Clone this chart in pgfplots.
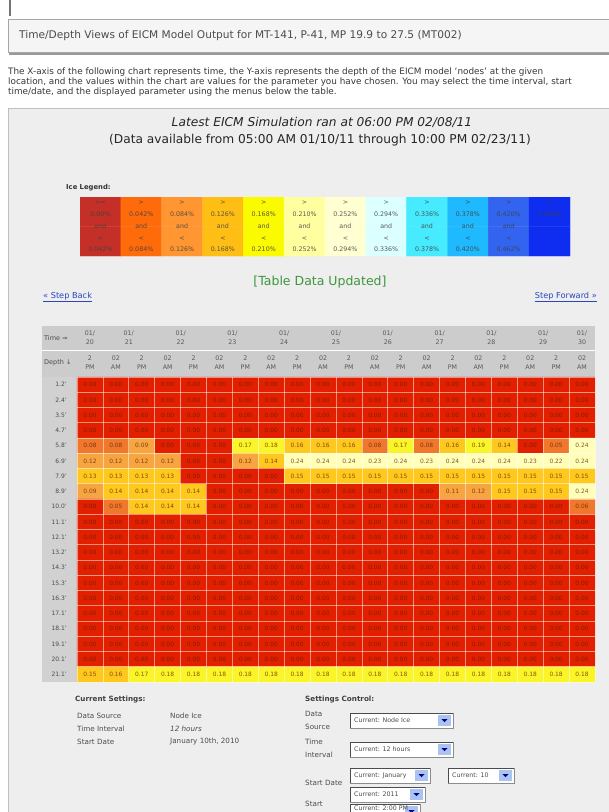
\documentclass[border=0pt]{standalone}
\usepackage{pgfplots}
\pgfplotsset{compat=1.18}
\usepackage{pgfplotstable}
\usepackage{fontspec}
\setmainfont{DejaVu Sans}
\definecolor{txt}{RGB}{55,55,55}
\definecolor{panel}{RGB}{238,238,238}
\definecolor{hdr}{RGB}{204,204,204}
\definecolor{link}{RGB}{40,70,190}
\definecolor{updgreen}{RGB}{60,150,60}
\definecolor{celltxt}{RGB}{95,30,0}
\definecolor{btn}{RGB}{170,195,240}
\newcommand{\fs}[1]{\fontsize{#1}{#1}\selectfont}
\pgfplotsset{
  colormap={tbl}{rgb255=(226,32,0) rgb255=(240,120,45) rgb255=(246,165,65) rgb255=(255,200,30) rgb255=(250,245,40) rgb255=(255,255,185)},
  colormap={leg}{rgb255=(196,48,40) rgb255=(255,106,10) rgb255=(255,150,50) rgb255=(255,190,20) rgb255=(250,250,0) rgb255=(255,255,160) rgb255=(255,255,210) rgb255=(220,255,255) rgb255=(70,235,255) rgb255=(30,185,255) rgb255=(50,100,240) rgb255=(15,45,240)}
}
\pgfplotstableread{
x y v
1 1 0.00
2 1 0.00
3 1 0.00
4 1 0.00
5 1 0.00
6 1 0.00
7 1 0.00
8 1 0.00
9 1 0.00
10 1 0.00
11 1 0.00
12 1 0.00
13 1 0.00
14 1 0.00
15 1 0.00
16 1 0.00
17 1 0.00
18 1 0.00
19 1 0.00
20 1 0.00
1 2 0.00
2 2 0.00
3 2 0.00
4 2 0.00
5 2 0.00
6 2 0.00
7 2 0.00
8 2 0.00
9 2 0.00
10 2 0.00
11 2 0.00
12 2 0.00
13 2 0.00
14 2 0.00
15 2 0.00
16 2 0.00
17 2 0.00
18 2 0.00
19 2 0.00
20 2 0.00
1 3 0.00
2 3 0.00
3 3 0.00
4 3 0.00
5 3 0.00
6 3 0.00
7 3 0.00
8 3 0.00
9 3 0.00
10 3 0.00
11 3 0.00
12 3 0.00
13 3 0.00
14 3 0.00
15 3 0.00
16 3 0.00
17 3 0.00
18 3 0.00
19 3 0.00
20 3 0.00
1 4 0.00
2 4 0.00
3 4 0.00
4 4 0.00
5 4 0.00
6 4 0.00
7 4 0.00
8 4 0.00
9 4 0.00
10 4 0.00
11 4 0.00
12 4 0.00
13 4 0.00
14 4 0.00
15 4 0.00
16 4 0.00
17 4 0.00
18 4 0.00
19 4 0.00
20 4 0.00
1 5 0.08
2 5 0.08
3 5 0.09
4 5 0.00
5 5 0.00
6 5 0.00
7 5 0.17
8 5 0.18
9 5 0.16
10 5 0.16
11 5 0.16
12 5 0.08
13 5 0.17
14 5 0.08
15 5 0.16
16 5 0.19
17 5 0.14
18 5 0.00
19 5 0.05
20 5 0.24
1 6 0.12
2 6 0.12
3 6 0.12
4 6 0.12
5 6 0.00
6 6 0.00
7 6 0.12
8 6 0.14
9 6 0.24
10 6 0.24
11 6 0.24
12 6 0.23
13 6 0.24
14 6 0.23
15 6 0.24
16 6 0.24
17 6 0.24
18 6 0.23
19 6 0.22
20 6 0.24
1 7 0.13
2 7 0.13
3 7 0.13
4 7 0.13
5 7 0.00
6 7 0.00
7 7 0.00
8 7 0.00
9 7 0.15
10 7 0.15
11 7 0.15
12 7 0.15
13 7 0.15
14 7 0.15
15 7 0.15
16 7 0.15
17 7 0.15
18 7 0.15
19 7 0.15
20 7 0.15
1 8 0.09
2 8 0.14
3 8 0.14
4 8 0.14
5 8 0.14
6 8 0.00
7 8 0.00
8 8 0.00
9 8 0.00
10 8 0.00
11 8 0.00
12 8 0.00
13 8 0.00
14 8 0.00
15 8 0.11
16 8 0.12
17 8 0.15
18 8 0.15
19 8 0.15
20 8 0.24
1 9 0.00
2 9 0.05
3 9 0.14
4 9 0.14
5 9 0.14
6 9 0.00
7 9 0.00
8 9 0.00
9 9 0.00
10 9 0.00
11 9 0.00
12 9 0.00
13 9 0.00
14 9 0.00
15 9 0.00
16 9 0.00
17 9 0.00
18 9 0.00
19 9 0.00
20 9 0.06
1 10 0.00
2 10 0.00
3 10 0.00
4 10 0.00
5 10 0.00
6 10 0.00
7 10 0.00
8 10 0.00
9 10 0.00
10 10 0.00
11 10 0.00
12 10 0.00
13 10 0.00
14 10 0.00
15 10 0.00
16 10 0.00
17 10 0.00
18 10 0.00
19 10 0.00
20 10 0.00
1 11 0.00
2 11 0.00
3 11 0.00
4 11 0.00
5 11 0.00
6 11 0.00
7 11 0.00
8 11 0.00
9 11 0.00
10 11 0.00
11 11 0.00
12 11 0.00
13 11 0.00
14 11 0.00
15 11 0.00
16 11 0.00
17 11 0.00
18 11 0.00
19 11 0.00
20 11 0.00
1 12 0.00
2 12 0.00
3 12 0.00
4 12 0.00
5 12 0.00
6 12 0.00
7 12 0.00
8 12 0.00
9 12 0.00
10 12 0.00
11 12 0.00
12 12 0.00
13 12 0.00
14 12 0.00
15 12 0.00
16 12 0.00
17 12 0.00
18 12 0.00
19 12 0.00
20 12 0.00
1 13 0.00
2 13 0.00
3 13 0.00
4 13 0.00
5 13 0.00
6 13 0.00
7 13 0.00
8 13 0.00
9 13 0.00
10 13 0.00
11 13 0.00
12 13 0.00
13 13 0.00
14 13 0.00
15 13 0.00
16 13 0.00
17 13 0.00
18 13 0.00
19 13 0.00
20 13 0.00
1 14 0.00
2 14 0.00
3 14 0.00
4 14 0.00
5 14 0.00
6 14 0.00
7 14 0.00
8 14 0.00
9 14 0.00
10 14 0.00
11 14 0.00
12 14 0.00
13 14 0.00
14 14 0.00
15 14 0.00
16 14 0.00
17 14 0.00
18 14 0.00
19 14 0.00
20 14 0.00
1 15 0.00
2 15 0.00
3 15 0.00
4 15 0.00
5 15 0.00
6 15 0.00
7 15 0.00
8 15 0.00
9 15 0.00
10 15 0.00
11 15 0.00
12 15 0.00
13 15 0.00
14 15 0.00
15 15 0.00
16 15 0.00
17 15 0.00
18 15 0.00
19 15 0.00
20 15 0.00
1 16 0.00
2 16 0.00
3 16 0.00
4 16 0.00
5 16 0.00
6 16 0.00
7 16 0.00
8 16 0.00
9 16 0.00
10 16 0.00
11 16 0.00
12 16 0.00
13 16 0.00
14 16 0.00
15 16 0.00
16 16 0.00
17 16 0.00
18 16 0.00
19 16 0.00
20 16 0.00
1 17 0.00
2 17 0.00
3 17 0.00
4 17 0.00
5 17 0.00
6 17 0.00
7 17 0.00
8 17 0.00
9 17 0.00
10 17 0.00
11 17 0.00
12 17 0.00
13 17 0.00
14 17 0.00
15 17 0.00
16 17 0.00
17 17 0.00
18 17 0.00
19 17 0.00
20 17 0.00
1 18 0.00
2 18 0.00
3 18 0.00
4 18 0.00
5 18 0.00
6 18 0.00
7 18 0.00
8 18 0.00
9 18 0.00
10 18 0.00
11 18 0.00
12 18 0.00
13 18 0.00
14 18 0.00
15 18 0.00
16 18 0.00
17 18 0.00
18 18 0.00
19 18 0.00
20 18 0.00
1 19 0.00
2 19 0.00
3 19 0.00
4 19 0.00
5 19 0.00
6 19 0.00
7 19 0.00
8 19 0.00
9 19 0.00
10 19 0.00
11 19 0.00
12 19 0.00
13 19 0.00
14 19 0.00
15 19 0.00
16 19 0.00
17 19 0.00
18 19 0.00
19 19 0.00
20 19 0.00
1 20 0.15
2 20 0.16
3 20 0.17
4 20 0.18
5 20 0.18
6 20 0.18
7 20 0.18
8 20 0.18
9 20 0.18
10 20 0.18
11 20 0.18
12 20 0.18
13 20 0.18
14 20 0.18
15 20 0.18
16 20 0.18
17 20 0.18
18 20 0.18
19 20 0.18
20 20 0.18
}\heat
\newcommand{\dropdown}[6]{%
  \filldraw[fill=white, draw=black!45] (#1,-#2) rectangle (#3,-#4);
  \draw[black!70, line width=0.8pt] (#1,-#4) -- (#1,-#2) -- (#3,-#2);
  \fill[btn] ({#3-15},{-#2-2}) rectangle ({#3-2},{-#2-13});
  \fill[blue!55!black] ({#3-11.5},{-#2-6}) -- ({#3-5.5},{-#2-6}) -- ({#3-8.5},{-#2-9}) -- cycle;
  \node[anchor=west, font=\fs{6.3}, text=black!70, inner sep=0pt] at ({#1+4},-#6) {#5};
}
\begin{document}
\begin{tikzpicture}[x=1pt,y=1pt]
\useasboundingbox (0,0) rectangle (609,-812);
\clip (0,0) rectangle (609,-812);
\fill[white] (0,0) rectangle (609,-812);
\draw[black!55, line width=1.5pt] (10,0) -- (10,-16);
% title bar
\fill[black!40] (9,-21) rectangle (612,-55);
\filldraw[fill=black!4, draw=black!35] (8,-19) rectangle (612,-52.5);
\node[anchor=west, text=black!70, font=\fs{10.6}, inner sep=0pt] at (19,-36) {Time/Depth Views of EICM Model Output for MT-141, P-41, MP 19.9 to 27.5 (MT002)};
% paragraph
\node[anchor=west, text=txt, font=\fs{8.85}, inner sep=0pt] at (8,-72) {The X-axis of the following chart represents time, the Y-axis represents the depth of the EICM model `nodes' at the given};
\node[anchor=west, text=txt, font=\fs{8.85}, inner sep=0pt] at (8,-82) {location, and the values within the chart are values for the parameter you have chosen. You may select the time interval, start};
\node[anchor=west, text=txt, font=\fs{8.85}, inner sep=0pt] at (8,-92) {time/date, and the displayed parameter using the menus below the table.};
% panel
\filldraw[fill=panel, draw=black!25] (8,-108) rectangle (615,-820);
\node[font=\fs{12.2}\itshape, text=black!85] at (322,-122) {Latest EICM Simulation ran at 06:00 PM 02/08/11};
\node[font=\fs{12.2}, text=black!85] at (320,-140) {(Data available from 05:00 AM 01/10/11 through 10:00 PM 02/23/11)};
\node[anchor=west, font=\fs{6.8}\bfseries, text=black!80, inner sep=0pt] at (66,-188) {Ice Legend:};
% legend
\begin{axis}[at={(80pt,-197pt)}, anchor=north west, width=490pt, height=59pt, scale only axis,
  xmin=0.5, xmax=12.5, ymin=0.5, ymax=2.5, hide axis, colormap name=leg, colormap access=direct]
\addplot[matrix plot*, mesh/cols=12, point meta=explicit] table[meta=c] {
x y c
1 1 0
2 1 1
3 1 2
4 1 3
5 1 4
6 1 5
7 1 6
8 1 7
9 1 8
10 1 9
11 1 10
12 1 11
1 2 0
2 2 1
3 2 2
4 2 3
5 2 4
6 2 5
7 2 6
8 2 7
9 2 8
10 2 9
11 2 10
12 2 11
};
\end{axis}
\foreach \i/\lo/\hi/\gt in {1/0.00/0.042/{>=}, 2/0.042/0.084/>, 3/0.084/0.126/>, 4/0.126/0.168/>, 5/0.168/0.210/>, 6/0.210/0.252/>, 7/0.252/0.294/>, 8/0.294/0.336/>, 9/0.336/0.378/>, 10/0.378/0.420/>, 11/0.420/0.462/>}
  \node[align=center, font=\fontsize{6.3}{11.8}\selectfont, text=black!75, opacity=0.85] at ({80+40.83*(\i-0.5)},-226.5) {\gt\\\lo\%\\and\\<\\\hi\%};
\node[align=center, font=\fontsize{6.3}{11.8}\selectfont, text=black!75, opacity=0.85] at ({80+40.83*11.5},-209) {>\\0.462\%};
\node[font=\fs{12.5}, text=updgreen] at (320,-282) {[Table Data Updated]};
\node[anchor=west, font=\fs{8.2}, text=link, inner sep=0pt] at (43,-297) {\underline{« Step Back}};
\node[anchor=east, font=\fs{8.2}, text=link, inner sep=0pt] at (597,-297) {\underline{Step Forward »}};
% table header
\fill[hdr] (42,-326) rectangle (595,-377);
\fill[black!18] (42,-377) rectangle (77,-682);
\draw[white, line width=0.8pt] (42,-350) -- (595,-350);
\node[anchor=west, font=\fs{6.5}, text=black!70, inner sep=0pt] at (44,-338) {Time ⇒};
\node[anchor=west, font=\fs{6.5}, text=black!70, inner sep=0pt] at (44,-363) {Depth ↓};
\foreach \xx/\d in {89.95/20, 128.8/21, 180.6/22, 232.4/23, 284.2/24, 336/25, 387.8/26, 439.6/27, 491.4/28, 543.2/29, 582.05/30}
  \node[align=center, font=\fontsize{6.3}{9}\selectfont, text=black!65] at (\xx,-338) {01/\\\d};
\foreach \i in {1,3,...,19}
  \node[align=center, font=\fontsize{6.3}{9}\selectfont, text=black!65] at ({77+25.9*(\i-0.5)},-362.5) {2\\PM};
\foreach \i in {2,4,...,20}
  \node[align=center, font=\fontsize{6.3}{9}\selectfont, text=black!65] at ({77+25.9*(\i-0.5)},-362.5) {02\\AM};
\foreach \dd [count=\i] in {1.2,2.4,3.5,4.7,5.8,6.9,7.9,8.9,10.0,11.1,12.1,13.2,14.3,15.3,16.3,17.1,18.1,19.1,20.1,21.1}
  \node[anchor=east, font=\fs{6}, text=black!70, inner sep=0pt] at (67,{-377-15.25*(\i-0.5)}) {\dd'};
% heatmap
\begin{axis}[at={(77pt,-377pt)}, anchor=north west, width=518pt, height=305pt, scale only axis,
  xmin=0.5, xmax=20.5, ymin=0.5, ymax=20.5, y dir=reverse,
  axis line style={draw=none},
  xtick={0.5,1.5,...,20.5}, ytick={0.5,1.5,...,20.5},
  xticklabels={}, yticklabels={}, major tick length=0pt,
  grid=major, major grid style={draw=white, draw opacity=0.5, line width=0.8pt},
  axis on top, clip=false,
  colormap name=tbl, colormap access=direct]
\addplot[matrix plot*, mesh/cols=20, point meta={floor(\thisrow{v}/0.042)}] table[x=x, y=y] {\heat};
\addplot[only marks, mark=*, mark size=0pt, mark options={draw=none, fill=none},
  point meta=explicit symbolic,
  nodes near coords, nodes near coords align=center,
  every node near coord/.append style={font=\fs{5.9}, text=celltxt, inner sep=0pt, anchor=center, opacity=0.75}]
  table[x=x, y=y, meta=v] {\heat};
\end{axis}
% settings
\node[anchor=west, font=\fs{7.2}\bfseries, text=black!75, inner sep=0pt] at (75,-700) {Current Settings:};
\node[anchor=west, font=\fs{7.2}, text=black!70, inner sep=0pt] at (77,-716) {Data Source};
\node[anchor=west, font=\fs{7.2}, text=black!70, inner sep=0pt] at (170,-716) {Node Ice};
\node[anchor=west, font=\fs{7.2}, text=black!70, inner sep=0pt] at (77,-729) {Time Interval};
\node[anchor=west, font=\fs{7.2}\itshape, text=black!70, inner sep=0pt] at (170,-729) {12 hours};
\node[anchor=west, font=\fs{7.2}, text=black!70, inner sep=0pt] at (77,-742) {Start Date};
\node[anchor=west, font=\fs{7.2}, text=black!70, inner sep=0pt] at (170,-742) {January 10th, 2010};
\node[anchor=west, font=\fs{7.2}\bfseries, text=black!75, inner sep=0pt] at (305,-700) {Settings Control:};
\node[anchor=west, align=left, font=\fontsize{7.2}{13}\selectfont, text=black!70, inner sep=0pt] at (305,-720) {Data\\Source};
\node[anchor=west, align=left, font=\fontsize{7.2}{13}\selectfont, text=black!70, inner sep=0pt] at (305,-748) {Time\\Interval};
\node[anchor=west, font=\fs{7.2}, text=black!70, inner sep=0pt] at (305,-783) {Start Date};
\node[anchor=west, font=\fs{7.2}, text=black!70, inner sep=0pt] at (305,-804) {Start};
\dropdown{350}{713}{453}{728}{Current: Node Ice}{720.5}
\dropdown{350}{742}{453}{757}{Current: 12 hours}{749.5}
\dropdown{350}{768}{430}{783}{Current: January}{775.5}
\dropdown{448}{768}{514}{783}{Current: 10}{775.5}
\dropdown{350}{787}{425}{802}{Current: 2011}{794.5}
\dropdown{350}{804}{420}{819}{Current: 2:00 PM}{808.5}
\end{tikzpicture}
\end{document}
